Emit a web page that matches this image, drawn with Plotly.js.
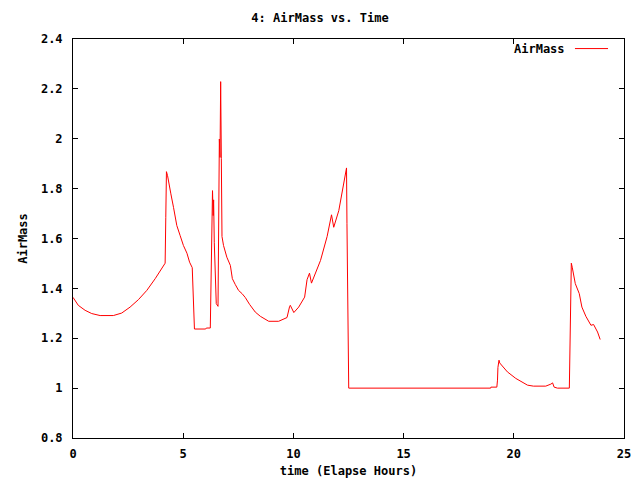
<!DOCTYPE html>
<html>
<head>
<meta charset="utf-8">
<script src="https://cdn.plot.ly/plotly-3.0.1.min.js"></script>
<style>html,body{margin:0;padding:0;background:#fff}#chart{width:640px;height:480px}</style>
</head>
<body>
<div id="chart"></div>
<script>
const timeHours = [
  0.00, 0.24, 0.55, 0.85, 1.23, 1.83, 2.21, 2.59, 2.97, 3.35, 3.73, 4.03, 4.17,
  4.18, 4.21, 4.24, 4.29, 4.33, 4.44, 4.56, 4.71, 4.86, 5.01, 5.17, 5.29, 5.41,
  5.44, 5.47, 5.51, 6.02, 6.05, 6.23, 6.26, 6.29, 6.33, 6.36, 6.38, 6.41, 6.45,
  6.50, 6.58, 6.61, 6.64, 6.67, 6.70, 6.73, 6.76, 6.83, 6.98, 7.14, 7.23, 7.36,
  7.51, 7.67, 7.82, 8.01, 8.27, 8.50, 8.88, 9.33, 9.71, 9.83, 9.86, 10.02, 10.24,
  10.51, 10.62, 10.73, 10.82, 11.23, 11.53, 11.73, 11.83, 12.06, 12.29, 12.41,
  12.43, 12.47, 12.51, 18.95, 18.96, 19.23, 19.26, 19.28, 19.33, 19.36, 19.71,
  20.09, 20.62, 20.89, 21.45, 21.68, 21.76, 21.83, 21.98, 22.52, 22.55, 22.58,
  22.61, 22.65, 22.79, 22.97, 23.09, 23.27, 23.50, 23.62, 23.80, 23.92
];
const airMass = [
  1.364, 1.332, 1.312, 1.299, 1.291, 1.291, 1.301, 1.325, 1.355, 1.392, 1.439, 1.483, 1.501,
  1.501, 1.685, 1.868, 1.852, 1.829, 1.779, 1.725, 1.652, 1.612, 1.572, 1.541, 1.505, 1.483,
  1.416, 1.332, 1.237, 1.237, 1.241, 1.241, 1.379, 1.652, 1.792, 1.692, 1.755, 1.585, 1.419,
  1.339, 1.328, 1.552, 1.999, 1.925, 2.229, 1.920, 1.608, 1.572, 1.525, 1.492, 1.439, 1.416,
  1.392, 1.379, 1.363, 1.336, 1.305, 1.288, 1.268, 1.268, 1.283, 1.328, 1.332, 1.303, 1.325,
  1.365, 1.435, 1.461, 1.421, 1.512, 1.608, 1.695, 1.645, 1.712, 1.832, 1.883,
  1.661, 1.221, 1.000, 1.000, 1.004, 1.004, 1.032, 1.083, 1.112, 1.101, 1.065,
  1.039, 1.012, 1.008, 1.008, 1.016, 1.021, 1.004, 1.000, 1.000, 1.125, 1.372,
  1.501, 1.485, 1.419, 1.379, 1.325, 1.288, 1.252, 1.255, 1.225, 1.195
];
const seriesName = 'AirMass';
const xTickVals = [0, 5, 10, 15, 20, 25];
const yTickVals = [0.8, 1, 1.2, 1.4, 1.6, 1.8, 2, 2.2, 2.4];
const yTickText = ['0.8', '1', '1.2', '1.4', '1.6', '1.8', '2', '2.2', '2.4'];

const font = {family: 'DejaVu Sans Mono, monospace', size: 12, color: '#000', weight: 'bold'};

const trace = {
  x: timeHours, y: airMass, type: 'scatter', mode: 'lines', name: seriesName,
  line: {color: '#ff0000', width: 1}, showlegend: false
};

const axisCommon = {
  showline: true, linecolor: '#000', linewidth: 1, mirror: 'ticks',
  ticks: 'inside', ticklen: 5, tickcolor: '#000', showgrid: false, zeroline: false,
  tickfont: font
};

const layout = {
  width: 640, height: 480,
  margin: {l: 73, r: 16, t: 39, b: 42},
  paper_bgcolor: '#fff', plot_bgcolor: '#fff',
  font: font,
  title: {text: '4: AirMass vs. Time', font: font, x: 0.5, xanchor: 'center', y: 0.962, yanchor: 'middle'},
  xaxis: Object.assign({}, axisCommon, {
    range: [0, 25], tickvals: xTickVals, ticktext: xTickVals.map(String),
    ticklabelstandoff: 5,
    title: {text: 'time (Elapse Hours)', font: font, standoff: 6}
  }),
  yaxis: Object.assign({}, axisCommon, {
    range: [0.8, 2.4], tickvals: yTickVals, ticktext: yTickText,
    ticklabelstandoff: 7,
    title: {text: 'AirMass', font: font, standoff: 10}
  }),
  showlegend: false,
  annotations: [{
    xref: 'paper', yref: 'paper', x: 0.897, y: 0.976, xanchor: 'right', yanchor: 'middle',
    text: seriesName, showarrow: false, font: font
  }],
  shapes: [{
    type: 'line', xref: 'paper', yref: 'paper', x0: 0.911, x1: 0.971, y0: 0.976, y1: 0.976,
    line: {color: '#ff0000', width: 1}
  }]
};

Plotly.newPlot('chart', [trace], layout, {displayModeBar: false, staticPlot: true});
</script>
</body>
</html>
